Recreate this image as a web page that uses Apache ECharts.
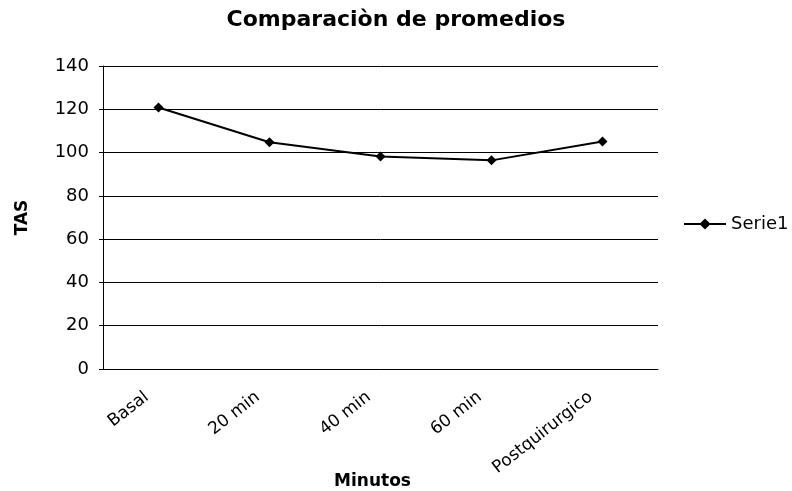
<!DOCTYPE html>
<html>
<head>
<meta charset="utf-8">
<script src="https://cdn.jsdelivr.net/npm/echarts@6/dist/echarts.min.js"></script>
<style>
  html, body { margin: 0; padding: 0; background: #ffffff; }
  #chart { width: 792px; height: 491px; }
</style>
</head>
<body>
<div id="chart"></div>
<script>
// Mean systolic pressure (TAS) at each measurement time
const categories = ['Basal', '20 min', '40 min', '60 min', 'Postquirurgico'];
const serie1 = [120.8, 104.8, 98.2, 96.4, 105.1];
const yTicks = { min: 0, max: 140, interval: 20 };

const FONT = 'DejaVu Sans';

const chart = echarts.init(document.getElementById('chart'), null, { renderer: 'canvas' });

chart.setOption({
  backgroundColor: '#ffffff',
  animation: false,
  title: {
    text: 'Comparaciòn de promedios',
    left: 'center',
    top: 4,
    textStyle: { fontFamily: FONT, fontWeight: 'bold', fontSize: 22, color: '#000' }
  },
  legend: {
    data: ['Serie1'],
    left: 678,
    top: 210,
    itemWidth: 42,
    itemHeight: 14,
    itemGap: 6,
    textStyle: { fontFamily: FONT, fontSize: 18, color: '#000' }
  },
  grid: {
    left: 103, right: 134, top: 66, bottom: 122,
    containLabel: false,
    outerBoundsMode: 'none'
  },
  xAxis: {
    type: 'category',
    data: categories,
    boundaryGap: true,
    name: 'Minutos',
    nameLocation: 'middle',
    nameGap: 104,
    nameMoveOverlap: false,
    nameTextStyle: { fontFamily: FONT, fontWeight: 'bold', fontSize: 17, color: '#000', padding: [0, 16, 0, 0] },
    axisLine: { show: true, lineStyle: { color: '#000', width: 1 } },
    axisTick: { show: false },
    axisLabel: {
      rotate: 38,
      margin: 17,
      padding: [0, 15, 0, 0],
      fontFamily: FONT,
      fontSize: 17,
      color: '#000',
      interval: 0
    },
    splitLine: { show: false }
  },
  yAxis: {
    type: 'value',
    min: yTicks.min,
    max: yTicks.max,
    interval: yTicks.interval,
    name: 'TAS',
    nameLocation: 'middle',
    nameGap: 72,
    nameRotate: 90,
    nameMoveOverlap: false,
    nameTextStyle: { fontFamily: FONT, fontWeight: 'bold', fontSize: 17, color: '#000' },
    axisLine: { show: true, lineStyle: { color: '#000', width: 1 } },
    axisTick: { show: true, length: 4, inside: false, lineStyle: { color: '#000' } },
    axisLabel: { margin: 14, fontFamily: FONT, fontSize: 18, color: '#000' },
    splitLine: { show: true, lineStyle: { color: '#000', width: 1 } }
  },
  series: [{
    name: 'Serie1',
    type: 'line',
    data: serie1,
    symbol: 'diamond',
    symbolSize: 10,
    showAllSymbol: true,
    lineStyle: { color: '#000', width: 2 },
    itemStyle: { color: '#000' }
  }]
});
</script>
</body>
</html>
